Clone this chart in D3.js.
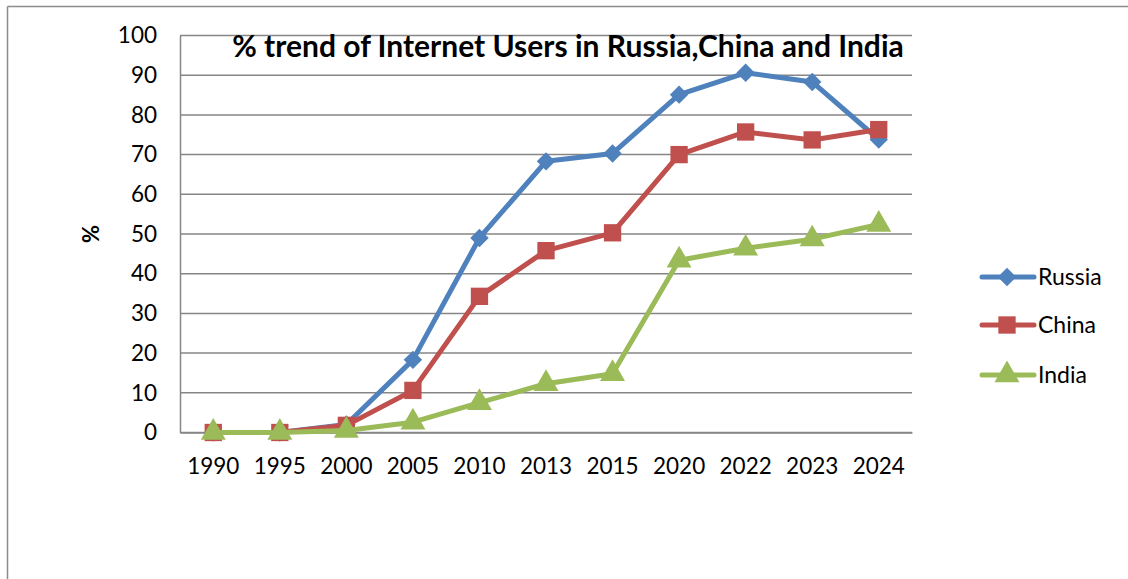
<!DOCTYPE html>
<html>
<head>
<meta charset="utf-8">
<script src="https://cdnjs.cloudflare.com/ajax/libs/d3/7.8.5/d3.min.js"></script>
<style>
  body { margin: 0; background: #fff; }
  svg { display: block; font-family: Lato, "Open Sans", sans-serif; }
</style>
</head>
<body>
<script>
const years = ['1990','1995','2000','2005','2010','2013','2015','2020','2022','2023','2024'];
const russia = [0, 0, 2, 18.3, 49, 68.3, 70.3, 85.1, 90.6, 88.3, 73.8];
const china = [0, 0, 1.8, 10.6, 34.3, 45.8, 50.3, 70, 75.7, 73.7, 76.3];
const india = [0, 0, 0.5, 2.6, 7.5, 12.3, 14.8, 43.4, 46.4, 48.7, 52.4];
const yTicks = [0,10,20,30,40,50,60,70,80,90,100];
const seriesNames = ['Russia','China','India'];

const w = 1128, h = 579;
const plotL = 180, plotR = 912, plotT = 35.5, plotB = 432.5;

const svg = d3.select('body').append('svg').attr('width', w).attr('height', h);

// outer frame (left + top only visible)
svg.append('line').attr('x1',7.5).attr('x2',7.5).attr('y1',6.5).attr('y2',h).attr('stroke','#8c8c8c').attr('stroke-width',1.5);
svg.append('line').attr('x1',7.5).attr('x2',w).attr('y1',6.5).attr('y2',6.5).attr('stroke','#8c8c8c').attr('stroke-width',1.5);

const x = d3.scaleBand().domain(years).range([plotL, plotR]);
const y = d3.scaleLinear().domain([0, 100]).range([plotB, plotT]);

// gridlines
svg.append('g').selectAll('line').data(yTicks).enter().append('line')
  .attr('x1', plotL).attr('x2', plotR)
  .attr('y1', d => y(d)).attr('y2', d => y(d))
  .attr('stroke', '#868686').attr('stroke-width', 1.5);

// axes
const yAxis = svg.append('g').attr('transform', 'translate(' + plotL + ',0)')
  .call(d3.axisLeft(y).tickValues(yTicks).tickSize(0).tickPadding(23));
yAxis.select('.domain').attr('stroke', '#868686').attr('stroke-width', 1.5);
yAxis.selectAll('text').attr('font-size', 22.5).attr('fill', '#000').attr('font-family', 'Lato');

const xAxis = svg.append('g').attr('transform', 'translate(0,' + plotB + ')')
  .call(d3.axisBottom(x).tickSize(0).tickPadding(26));
xAxis.select('.domain').attr('stroke', '#868686').attr('stroke-width', 1.5);
xAxis.selectAll('text').attr('font-size', 22.5).attr('fill', '#000').attr('font-family', 'Lato');

// y label
svg.append('text')
  .attr('transform', 'translate(99,234) rotate(-90)')
  .attr('text-anchor', 'middle')
  .attr('font-size', 22).attr('font-weight', 'bold')
  .text('%');

// title
svg.append('text')
  .attr('x', 568).attr('y', 57)
  .attr('text-anchor', 'middle')
  .attr('font-size', 30).attr('font-weight', 'bold')
  .text('% trend of Internet Users in Russia,China and India');

const colors = ['#4F81BD', '#C0504D', '#9BBB59'];
const data = [russia, china, india];
// diamond = square rotated 45deg
const shapes = [d3.symbolSquare, d3.symbolSquare, d3.symbolTriangle];
const sizes = [170, 300, 270];
const rot = [45, 0, 0];

const line = d3.line().x((d, i) => x(years[i]) + x.bandwidth() / 2).y(d => y(d));

data.forEach((vals, k) => {
  svg.append('path').datum(vals).attr('d', line)
    .attr('fill', 'none').attr('stroke', colors[k]).attr('stroke-width', 5)
    .attr('stroke-linejoin', 'round');
  svg.append('g').selectAll('path').data(vals).enter().append('path')
    .attr('d', d3.symbol().type(shapes[k]).size(sizes[k]))
    .attr('transform', (d, i) => 'translate(' + (x(years[i]) + x.bandwidth() / 2) + ',' + y(d) + ') rotate(' + rot[k] + ')')
    .attr('fill', colors[k]);
});

// legend
const legend = svg.append('g');
const ly = [277, 325, 375];
seriesNames.forEach((name, k) => {
  legend.append('line').attr('x1', 982).attr('x2', 1034).attr('y1', ly[k]).attr('y2', ly[k])
    .attr('stroke', colors[k]).attr('stroke-width', 5).attr('stroke-linecap', 'round');
  legend.append('path').attr('d', d3.symbol().type(shapes[k]).size(sizes[k]))
    .attr('transform', 'translate(1007,' + ly[k] + ') rotate(' + rot[k] + ')').attr('fill', colors[k]);
  legend.append('text').attr('x', 1038).attr('y', ly[k] + 8)
    .attr('font-size', 23).text(name);
});
</script>
</body>
</html>
